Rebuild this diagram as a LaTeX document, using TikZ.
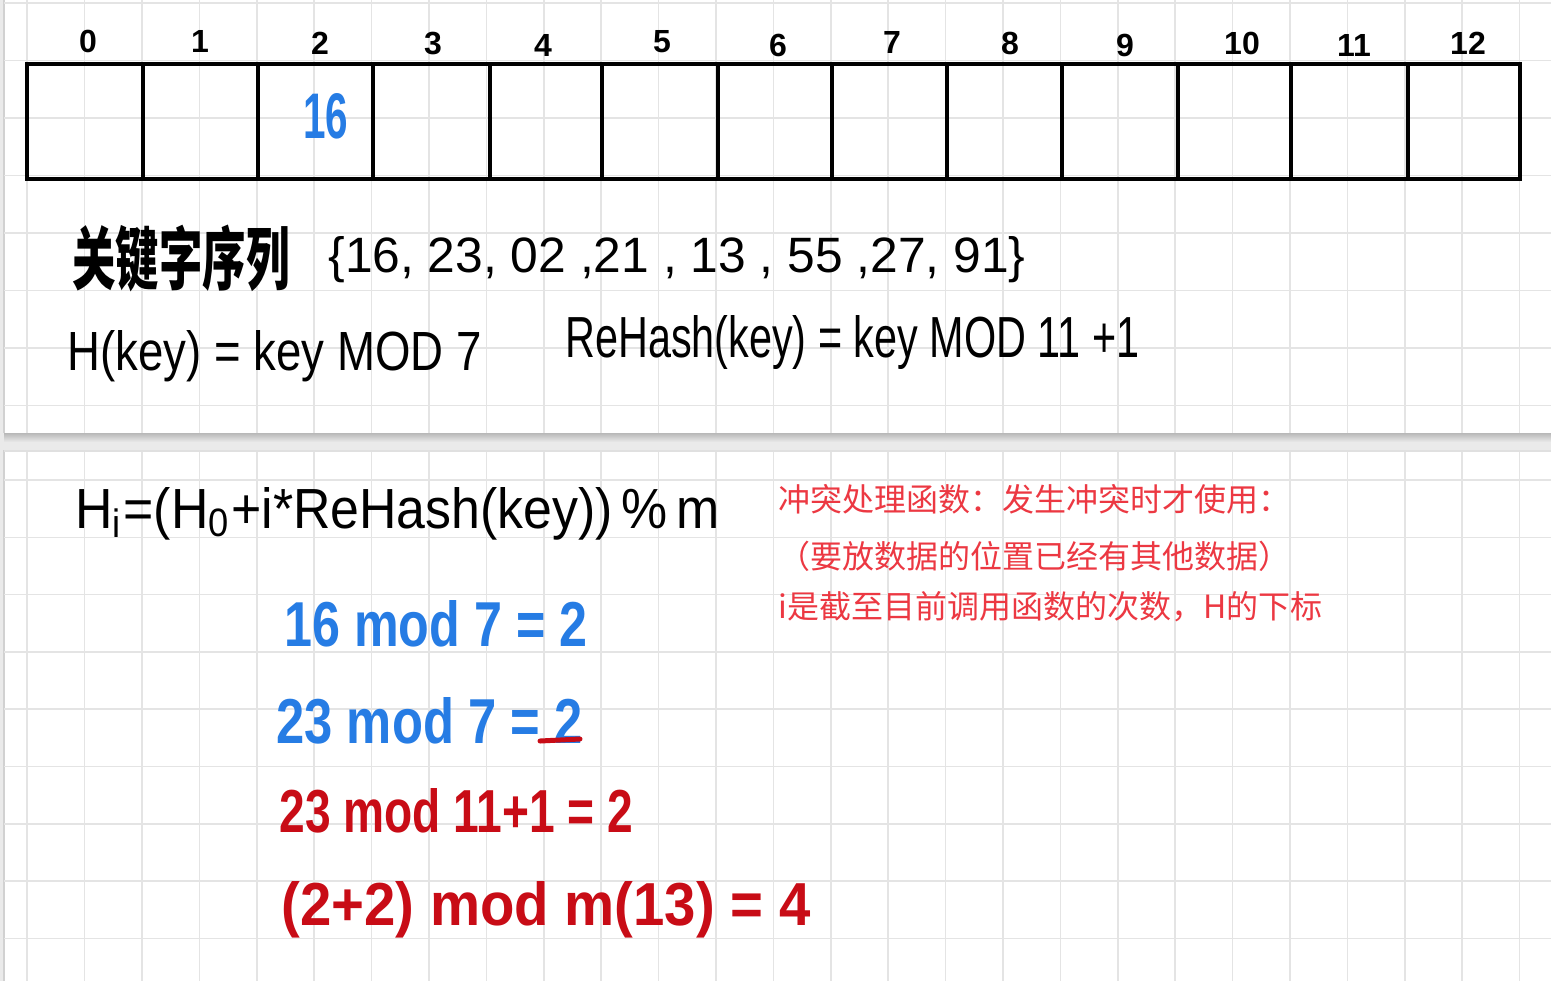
\documentclass[tikz,border=0pt]{standalone}
\usepackage{fontspec}
\usepackage{graphicx}
\setmainfont{Liberation Sans}
\newfontfamily\cjk{Noto Sans CJK SC}
\definecolor{penblue}{RGB}{38,124,228}
\definecolor{penred}{RGB}{200,12,22}
\definecolor{notered}{RGB}{236,56,66}
\definecolor{gridgray}{RGB}{228,228,228}
\definecolor{gapgray}{RGB}{234,234,234}
\begin{document}
\begin{tikzpicture}[x=0.5pt,y=-0.5pt,
  hw/.style={inner sep=0pt, anchor=base west, text=black},
  hwblue/.style={hw, text=penblue, font=\bfseries},
  hwred/.style={hw, text=penred, font=\bfseries},
  idx/.style={inner sep=0pt, font=\fontsize{16}{16}\selectfont\bfseries},
  note/.style={inner sep=0pt, anchor=west, text=notered, font=\cjk\fontsize{16}{16}\selectfont},
  gridline/.style={draw=gridgray, line width=0.75pt},
  thick line/.style={line width=2pt, draw=black},
]
\useasboundingbox (0,0) rectangle (1551,981);
% pages
\fill[gapgray] (0,0) rectangle (1551,981);
\fill[white] (4,0) rectangle (1551,433);
\fill[white] (4,450) rectangle (1551,981);
\shade[top color=black!28, bottom color=gapgray] (4,433) rectangle (1551,442);
\draw[black!18, line width=0.75pt] (4,0) -- (4,433);
\draw[black!18, line width=0.75pt] (4,450) -- (4,981);
\draw[black!12, line width=0.75pt] (4,451) -- (1551,451);
% grid
\foreach \k in {0,...,26} {
  \draw[gridline] ({27.2+57.4*\k},0) -- ({27.2+57.4*\k},433);
  \draw[gridline] ({27.2+57.4*\k},452) -- ({27.2+57.4*\k},981);
}
\foreach \k in {0,...,7} \draw[gridline] (4,{3+57.5*\k}) -- (1551,{3+57.5*\k});
\foreach \k in {0,...,8} \draw[gridline] (4,{480+57.3*\k}) -- (1551,{480+57.3*\k});
% array
\draw[thick line] (27,64) rectangle (1520,179);
\foreach \x in {143,258,373,490,602,718,832,947,1062,1178,1291,1408}
  \draw[thick line] (\x,64) -- (\x,179);
\foreach \t/\x/\y in {0/88/41,1/200/41,2/320/43,3/433/44,4/543/45,5/662/42,6/778/45,7/892/42,8/1010/43,9/1125/45,10/1242/43,11/1354/45,12/1468/43}
  \node[idx] (i\t) at (\x,\y) {\t};
\node[hwblue] (v16) at (303,138) {\resizebox{22.5pt}{22.5pt}{16}};
% key sequence and hash functions
\node[inner sep=0pt, anchor=south west, font=\cjk\bfseries] (kw) at (72,292) {\resizebox*{108.5pt}{33.5pt}{关键字序列}};
\node[hw] (set) at (328,272) {\resizebox{348.5pt}{18pt}{\{16, 23, 02 ,21 , 13 , 55 ,27, 91\}}};
\node[hw] (hk) at (67,370) {\resizebox{207pt}{20pt}{H(key) = key MOD 7}};
\node[hw] (rh) at (565,357) {\resizebox{287pt}{21pt}{ReHash(key) = key MOD 11 +1}};
% second page
\node[hw] (hi) at (75,528) {\resizebox{322pt}{20.5pt}{H\textsubscript{i}=(H\textsubscript{0}+i*ReHash(key))\,\%\,m}};
\node[note] (n1) at (778,499) {冲突处理函数：发生冲突时才使用：};
\node[note] (n2) at (778,556) {（要放数据的位置已经有其他数据）};
\node[note] (n3) at (778,607) {i是截至目前调用函数的次数，H的下标};
\node[hwblue] (b1) at (284,646) {\resizebox{151.5pt}{23pt}{16 mod 7 = 2}};
\node[hwblue] (b2) at (276,743) {\resizebox{153pt}{23pt}{23 mod 7 = 2}};
\coordinate (u1) at (540,741);
\coordinate (u2) at (580,739);
\draw[penred, line width=2.5pt, line cap=round] (u1) -- (u2);
\node[hwred] (r1) at (279,832) {\resizebox{177pt}{22pt}{23 mod 11+1 = 2}};
\node[hwred] (r2) at (281,925) {\resizebox{264.5pt}{22pt}{(2+2) mod m(13) = 4}};
\end{tikzpicture}
\end{document}
